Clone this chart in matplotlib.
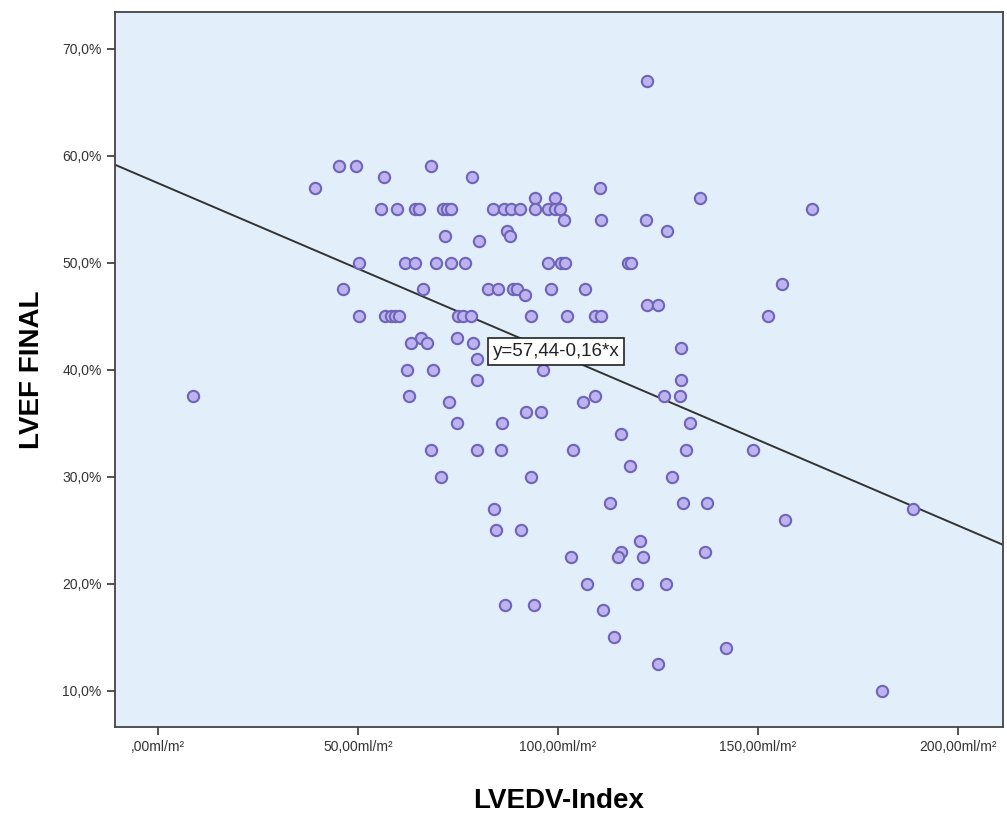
import matplotlib
matplotlib.use("Agg")
import matplotlib.pyplot as plt
import numpy as np

# LVEDV-Index (ml/m²) and LVEF FINAL (%)
lvedv = [45.3, 49.5, 68.2,
         56.5, 78.5,
         39.4, 110.5,
         94.25, 99.25, 135.6,
         55.9, 59.7, 64.25, 65.3, 71.2, 72.2, 73.4, 83.8, 86.6, 88.4, 90.5,
         94.25, 97.6, 99.25, 100.5, 163.6,
         101.6, 110.75, 121.9,
         87.2, 127.2,
         71.9, 88.0,
         80.3,
         50.3, 61.75, 64.25, 69.5, 73.4, 76.9, 97.6, 100.75, 101.75, 117.6, 118.3,
         155.9,
         46.3, 66.2, 82.6, 85.1, 88.8, 89.75, 98.4, 106.9,
         91.75,
         122.3, 125.1,
         50.2, 56.75, 58.25, 59.25, 60.25, 75.1, 76.3, 78.4, 93.4, 102.2, 109.4,
         110.9, 152.4,
         65.7, 74.9,
         63.4, 67.2, 78.8,
         130.75,
         79.7,
         62.2, 68.7, 96.3,
         79.9, 130.75,
         8.7, 62.8, 109.25, 126.6, 130.5,
         72.8, 106.3,
         92.0, 95.9,
         74.8, 86.1, 133.0,
         115.9,
         68.4, 79.8, 85.75, 103.8, 131.9, 148.8,
         118.0,
         70.9, 93.2, 128.6,
         113.0, 131.2, 137.3,
         84.1, 188.8,
         156.75,
         84.5, 90.75,
         120.5,
         115.9, 136.75,
         103.2, 115.1, 121.2,
         107.2, 119.7, 126.9,
         86.75, 94.0,
         111.2,
         114.0,
         141.9,
         125.1,
         180.9,
         122.25]

lvef = [59, 59, 59,
        58, 58,
        57, 57,
        56, 56, 56,
        55, 55, 55, 55, 55, 55, 55, 55, 55, 55, 55,
        55, 55, 55, 55, 55,
        54, 54, 54,
        53, 53,
        52.5, 52.5,
        52,
        50, 50, 50, 50, 50, 50, 50, 50, 50, 50, 50,
        48,
        47.5, 47.5, 47.5, 47.5, 47.5, 47.5, 47.5, 47.5,
        47,
        46, 46,
        45, 45, 45, 45, 45, 45, 45, 45, 45, 45, 45,
        45, 45,
        43, 43,
        42.5, 42.5, 42.5,
        42,
        41,
        40, 40, 40,
        39, 39,
        37.5, 37.5, 37.5, 37.5, 37.5,
        37, 37,
        36, 36,
        35, 35, 35,
        34,
        32.5, 32.5, 32.5, 32.5, 32.5, 32.5,
        31,
        30, 30, 30,
        27.5, 27.5, 27.5,
        27, 27,
        26,
        25, 25,
        24,
        23, 23,
        22.5, 22.5, 22.5,
        20, 20, 20,
        18, 18,
        17.5,
        15,
        14,
        12.5,
        10,
        67]

# fit line shown in the chart
intercept = 57.44
slope = -0.16
fit_label = "y=57,44-0,16*x"

x_ticks = [0, 50, 100, 150, 200]
x_tick_labels = [",00ml/m²", "50,00ml/m²", "100,00ml/m²", "150,00ml/m²", "200,00ml/m²"]
y_ticks = [10, 20, 30, 40, 50, 60, 70]
y_tick_labels = ["10,0%", "20,0%", "30,0%", "40,0%", "50,0%", "60,0%", "70,0%"]

plt.rcParams['font.family'] = ['Liberation Sans', 'DejaVu Sans']

fig = plt.figure(figsize=(10.07, 8.17), dpi=100)
ax = fig.add_axes([0.114, 0.110, 0.882, 0.875])
ax.set_facecolor('#e2eefa')

xlim = (-10.75, 211.25)
ylim = (6.6, 73.4)
ax.set_xlim(xlim)
ax.set_ylim(ylim)

ax.scatter(lvedv, lvef, s=66, facecolor='#bdb3f0', edgecolor='#6e64b8',
           linewidth=1.5, zorder=3)

xs = np.array(xlim)
ax.plot(xs, intercept + slope * xs, color='#333333', linewidth=1.4, zorder=2)

ax.text(99.5, 41.7, fit_label, ha='center', va='center', fontsize=13.5,
        color='#222222', zorder=5,
        bbox=dict(boxstyle='square,pad=0.25', facecolor='white',
                  edgecolor='#222222', linewidth=1.2))

ax.set_xticks(x_ticks)
ax.set_xticklabels(x_tick_labels)
ax.set_yticks(y_ticks)
ax.set_yticklabels(y_tick_labels)
ax.tick_params(axis='both', direction='out', length=6, width=1.2,
               color='#333333', labelsize=10, labelcolor='#333333')

for sp in ax.spines.values():
    sp.set_color('#444444')
    sp.set_linewidth(1.3)

ax.set_xlabel("LVEDV-Index", fontsize=20, fontweight='bold', labelpad=24)
ax.set_ylabel("LVEF FINAL", fontsize=20, fontweight='bold', labelpad=12)

fig.savefig("out.png", dpi=100, facecolor='white')
